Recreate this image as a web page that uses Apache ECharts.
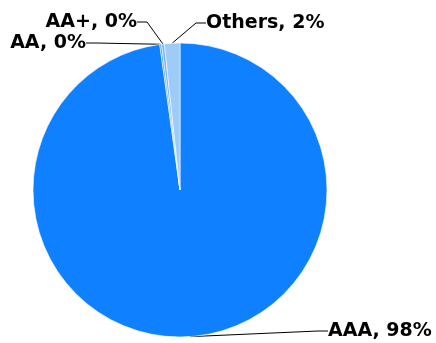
<!DOCTYPE html>
<html><head><meta charset="utf-8">
<script src="https://cdn.jsdelivr.net/npm/echarts@6/dist/echarts.min.js"></script>
<style>html,body{margin:0;padding:0;background:#fff}#c{width:436px;height:343px}</style>
</head><body><div id="c"></div>
<script>
const categories = ['AAA', 'AA', 'AA+', 'Others'];
const values = [97.8, 0.2, 0.3, 1.7];
const colors = ['#0f80ff', '#3f9bff', '#74b5fb', '#9ecbf7'];
// label anchor placement (layout only)
const labelPos = {
  'AAA': [328, 331, 'left'],
  'AA': [86, 43, 'right'],
  'AA+': [137, 22, 'right'],
  'Others': [206, 23, 'left']
};
const chart = echarts.init(document.getElementById('c'));
chart.setOption({
  animation: false,
  series: [{
    type: 'pie',
    center: [180, 190],
    radius: 147,
    startAngle: 90,
    clockwise: true,
    data: categories.map((c, i) => ({ name: c, value: values[i], itemStyle: { color: colors[i] } })),
    itemStyle: { borderColor: '#fff', borderWidth: 0.6 },
    label: {
      show: true,
      position: 'outside',
      overflow: 'none',
      formatter: p => p.name + ', ' + Math.round(p.percent) + '%',
      fontFamily: 'DejaVu Sans',
      fontWeight: 'bold',
      fontSize: 19,
      color: '#000'
    },
    labelLine: { show: true, length: 10, length2: 10, lineStyle: { color: '#000', width: 1 } },
    labelLayout: function (p) {
      const pos = labelPos[categories[p.dataIndex]];
      return { x: pos[0], y: pos[1], align: pos[2], verticalAlign: 'middle' };
    }
  }]
});
</script></body></html>
